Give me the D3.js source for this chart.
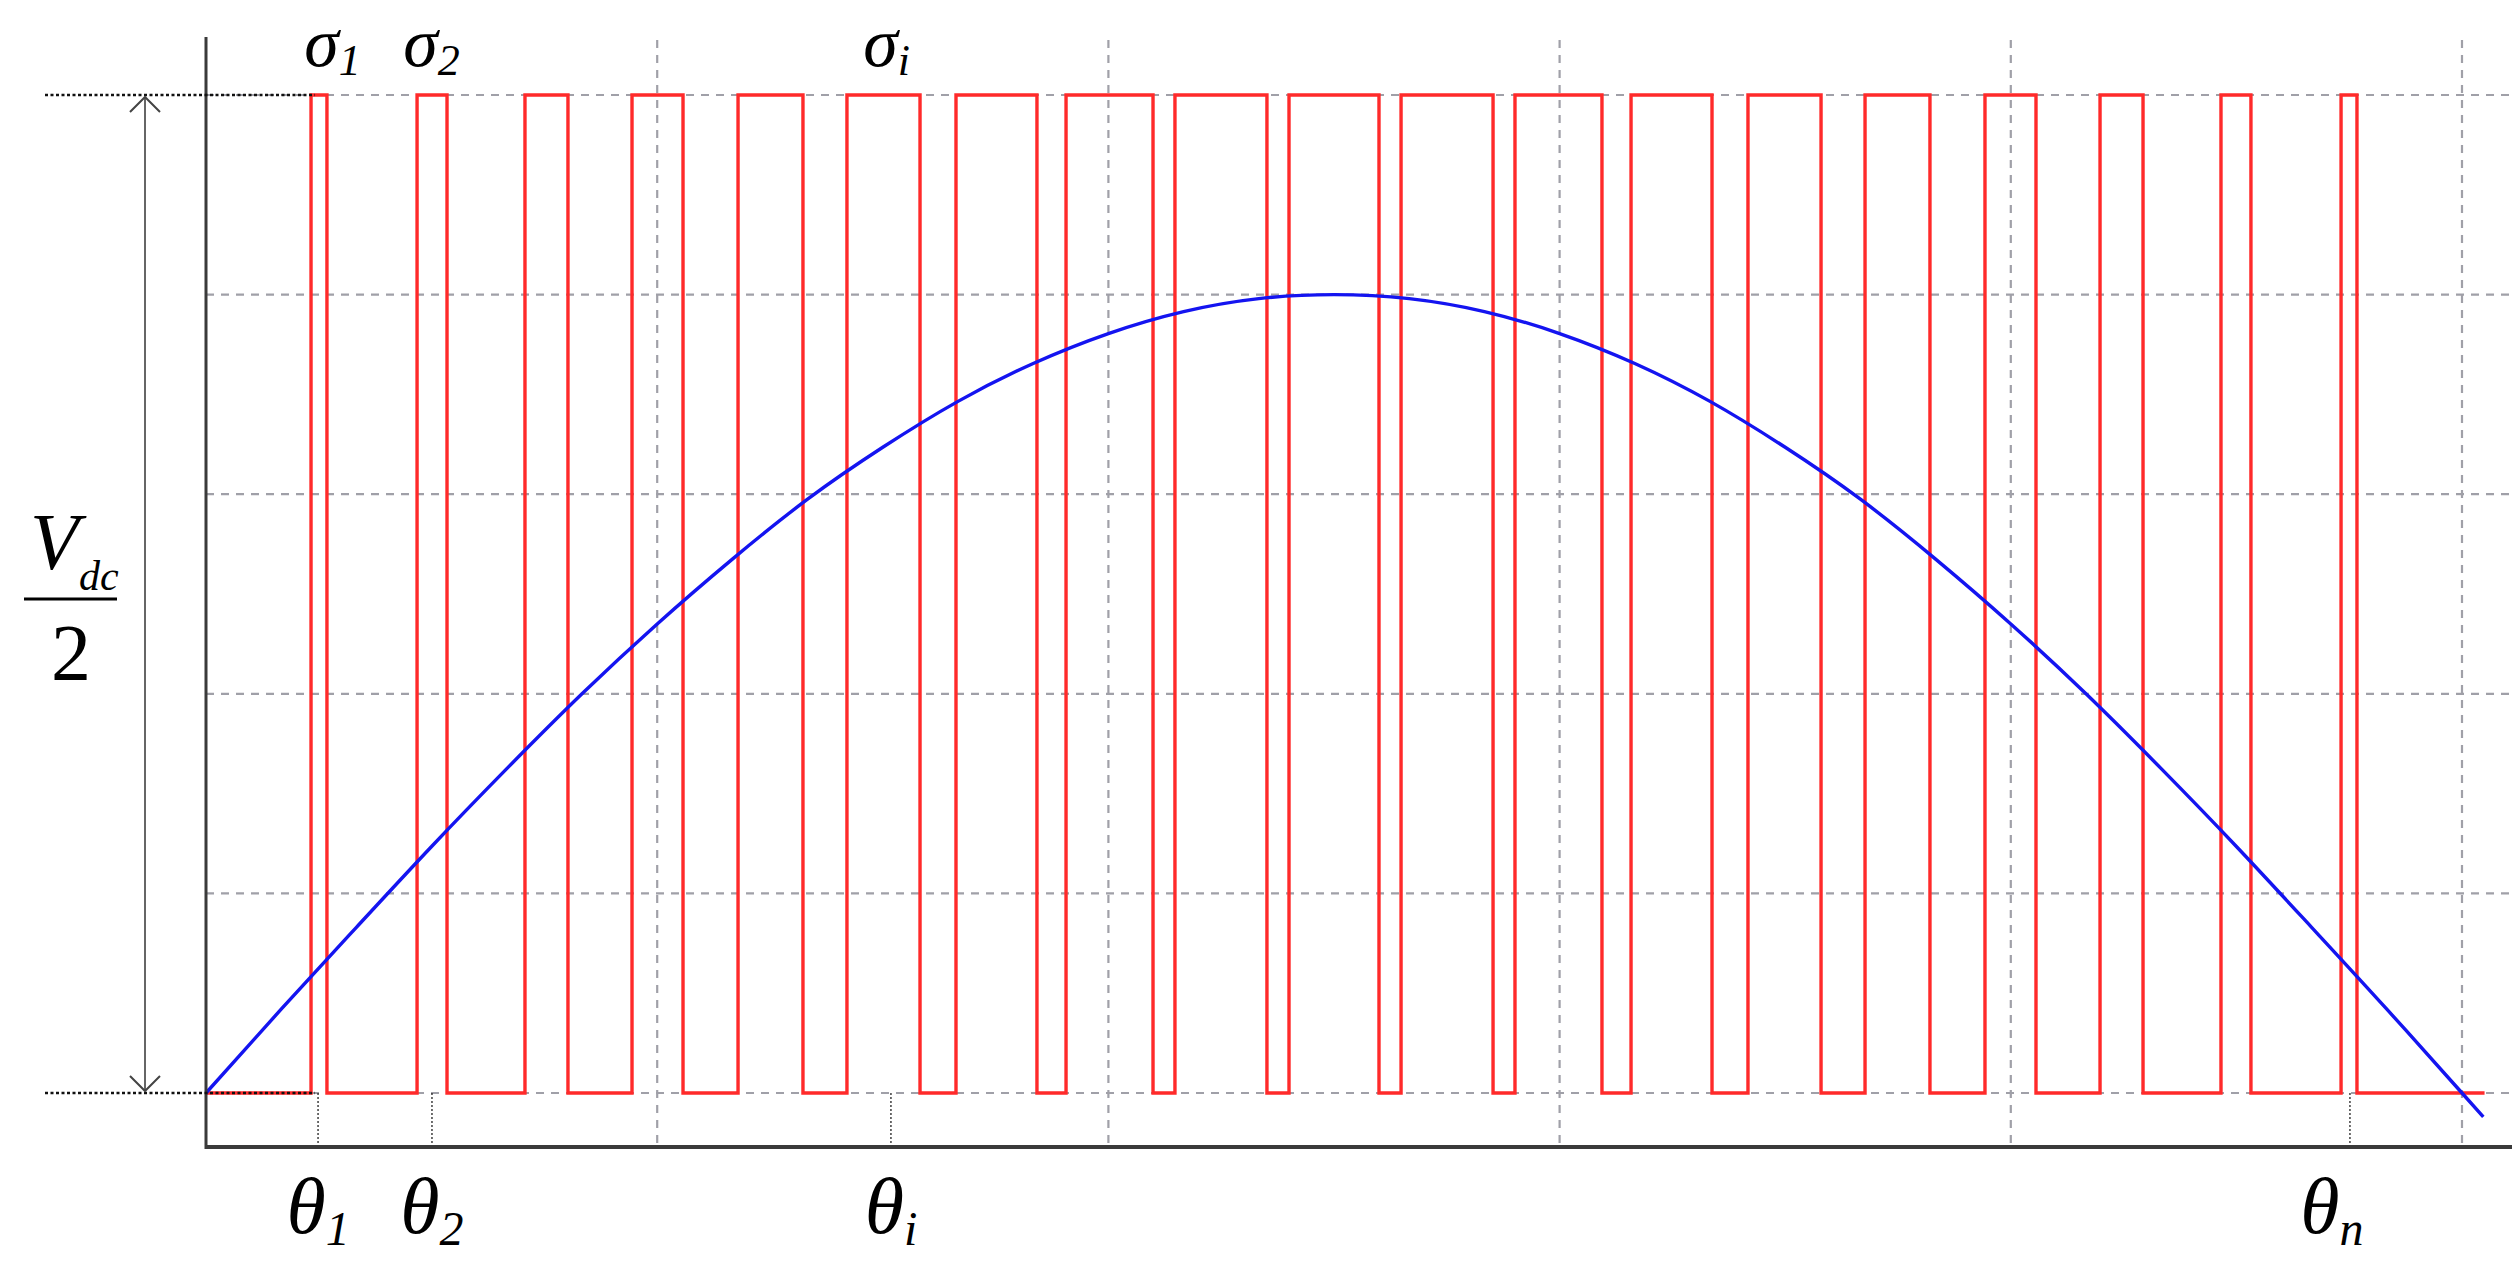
<!DOCTYPE html>
<html>
<head>
<meta charset="utf-8">
<script src="https://cdn.jsdelivr.net/npm/d3@7"></script>
<style>
  html, body { margin: 0; padding: 0; background: #fff; }
  svg { display: block; }
</style>
</head>
<body>
<svg id="chart" width="2512" height="1263"></svg>
<script>
// ---------- DATA (angles in degrees, amplitude in units of Vdc/2) ----------
const pulseStarts = [8.38, 16.84, 25.45, 33.99, 42.45, 51.14, 59.84, 68.62, 77.31, 86.41,
                     95.35, 104.44, 113.70, 123.03, 132.37, 141.94, 151.12, 160.77, 170.35];
const pulseEnds   = [9.65, 19.23, 28.88, 38.06, 47.63, 56.97, 66.30, 75.56, 84.65, 93.59,
                     102.69, 111.38, 120.16, 128.86, 137.55, 146.01, 154.55, 163.16, 171.62];
const pulseEndAngle = 181.8;

const sineAngles = [0, 6, 12, 18, 24, 30, 36, 42, 48, 54, 60, 66, 72, 78, 84, 90,
                    96, 102, 108, 114, 120, 126, 132, 138, 144, 150, 156, 162, 168, 174, 180, 181.7];
const sineValues = [0, 0.084, 0.166, 0.247, 0.325, 0.400, 0.470, 0.535, 0.595, 0.647, 0.693, 0.731,
                    0.761, 0.783, 0.796, 0.800, 0.796, 0.783, 0.761, 0.731, 0.693, 0.647, 0.595,
                    0.535, 0.470, 0.400, 0.325, 0.247, 0.166, 0.084, 0, -0.024];

const xGridTicks = [36, 72, 108, 144, 180];
const yGridTicks = [0, 0.2, 0.4, 0.6, 0.8, 1.0];

const thetaTicks  = [8.94, 18.03, 54.65, 171.06];
const thetaSubs   = ["1", "2", "i", "n"];
const sigmaAngles = [10.1, 18.0, 54.3];
const sigmaSubs   = ["1", "2", "i"];

// ---------- LAYOUT ----------
const W = 2512, H = 1263;
const x = d3.scaleLinear().domain([0, 180]).range([206, 2462]);
const y = d3.scaleLinear().domain([0, 1]).range([1093, 95]);
const axisBottomY = 1147;
const plotTop = 40;

const svg = d3.select("#chart");
svg.append("rect").attr("width", W).attr("height", H).attr("fill", "#fff");

const grid = svg.append("g");
grid.selectAll("line.h").data(yGridTicks).join("line")
  .attr("x1", x(0)).attr("x2", W)
  .attr("y1", d => y(d)).attr("y2", d => y(d))
  .attr("stroke", "#a0a0a8").attr("stroke-width", 2.2)
  .attr("stroke-dasharray", "8,7");
grid.selectAll("line.v").data(xGridTicks).join("line")
  .attr("x1", d => x(d)).attr("x2", d => x(d))
  .attr("y1", plotTop).attr("y2", axisBottomY)
  .attr("stroke", "#a0a0a8").attr("stroke-width", 2.2)
  .attr("stroke-dasharray", "8,7");

// theta tick lines (thin dotted)
svg.append("g").selectAll("line").data(thetaTicks).join("line")
  .attr("x1", d => x(d)).attr("x2", d => x(d))
  .attr("y1", y(0)).attr("y2", axisBottomY)
  .attr("stroke", "#222").attr("stroke-width", 1.3)
  .attr("stroke-dasharray", "2,2");

// red pulse train
const redPts = [[0, 0]];
pulseStarts.forEach((s, i) => {
  redPts.push([s, 0], [s, 1], [pulseEnds[i], 1], [pulseEnds[i], 0]);
});
redPts.push([pulseEndAngle, 0]);
svg.append("path")
  .attr("d", d3.line().x(d => x(d[0])).y(d => y(d[1]))(redPts))
  .attr("fill", "none").attr("stroke", "#ff2a2a").attr("stroke-width", 3.4)
  .attr("stroke-linejoin", "miter");

// blue sine reference
svg.append("path")
  .attr("d", d3.line().x(d => x(d[0])).y(d => y(d[1])).curve(d3.curveNatural)(sineAngles.map((a, i) => [a, sineValues[i]])))
  .attr("fill", "none").attr("stroke", "#1414f0").attr("stroke-width", 3.4);

// axes
svg.append("line").attr("x1", x(0)).attr("x2", x(0)).attr("y1", 37).attr("y2", axisBottomY + 2)
  .attr("stroke", "#3a3a3a").attr("stroke-width", 3);
svg.append("line").attr("x1", x(0) - 1).attr("x2", W).attr("y1", axisBottomY).attr("y2", axisBottomY)
  .attr("stroke", "#3a3a3a").attr("stroke-width", 4);

// dimension dotted lines
[0, 1].forEach(v => {
  svg.append("line").attr("x1", 45).attr("x2", x(pulseStarts[0]) + 4)
    .attr("y1", y(v)).attr("y2", y(v))
    .attr("stroke", "#111").attr("stroke-width", 2.6).attr("stroke-dasharray", "3,2.5");
});
// dimension arrow
const ax = 145;
svg.append("line").attr("x1", ax).attr("x2", ax).attr("y1", y(1) + 2).attr("y2", y(0) - 2)
  .attr("stroke", "#666").attr("stroke-width", 2);
svg.append("path").attr("d", `M${ax-15},${y(1)+17} L${ax},${y(1)+2} L${ax+15},${y(1)+17}`)
  .attr("fill", "none").attr("stroke", "#444").attr("stroke-width", 2);
svg.append("path").attr("d", `M${ax-15},${y(0)-17} L${ax},${y(0)-2} L${ax+15},${y(0)-17}`)
  .attr("fill", "none").attr("stroke", "#444").attr("stroke-width", 2);

// labels
const serif = "'Liberation Serif', 'DejaVu Serif', serif";
function symLabel(cx, by, main, sub, size, subSize, subDy) {
  const t = svg.append("text").attr("x", cx).attr("y", by)
    .attr("font-family", serif).attr("font-style", "italic")
    .attr("font-size", size).attr("fill", "#000").attr("text-anchor", "middle");
  t.append("tspan").text(main);
  t.append("tspan").attr("font-size", subSize).attr("dy", subDy).text(sub);
}
sigmaAngles.forEach((a, i) => symLabel(x(a), 66, "σ", sigmaSubs[i], 70, 44, 9));
thetaTicks.forEach((a, i) => symLabel(x(a) + (i === 3 ? -18 : 0), 1233, "θ", thetaSubs[i], 80, 48, 12));

// Vdc / 2
const vt = svg.append("text").attr("x", 30).attr("y", 569)
  .attr("font-family", serif).attr("font-style", "italic").attr("font-size", 80).attr("fill", "#000");
vt.append("tspan").text("V");
vt.append("tspan").attr("font-size", 42).attr("dy", 21).text("dc");
svg.append("line").attr("x1", 24).attr("x2", 117).attr("y1", 599).attr("y2", 599)
  .attr("stroke", "#000").attr("stroke-width", 3);
svg.append("text").attr("x", 71).attr("y", 680).attr("text-anchor", "middle")
  .attr("font-family", serif).attr("font-size", 80).attr("fill", "#000").text("2");
</script>
</body>
</html>
